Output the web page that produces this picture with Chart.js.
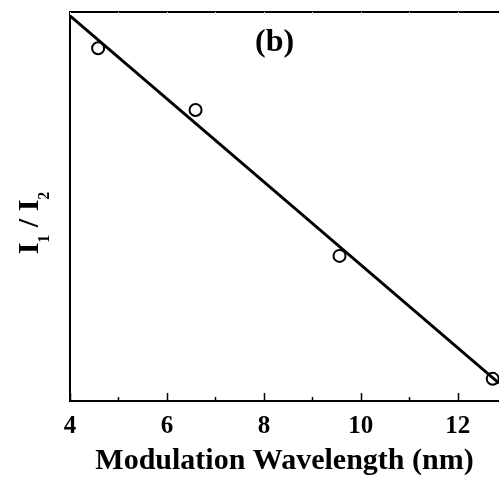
<!DOCTYPE html>
<html>
<head>
<meta charset="utf-8">
<script src="https://cdn.jsdelivr.net/npm/chart.js@4"></script>
<style>
  html, body { margin: 0; padding: 0; background: #fff; }
  #wrap { width: 499px; height: 480px; }
</style>
</head>
<body>
<div id="wrap"><canvas id="ratioChart" width="499" height="480"></canvas></div>
<script>
// Measured points (I1/I2 vs modulation wavelength), y in arbitrary units
const wavelengths = [4.58, 6.59, 9.56, 12.72];
const ratios = [0.907, 0.748, 0.373, 0.057];

// Linear fit drawn as a line between its two ends
const fitX = [4, 12.85];
const fitY = [0.99, 0.046];

const xTicks = [4, 6, 8, 10, 12];
const xMinorTicks = [5, 7, 9, 11];

const SERIF = "'Liberation Serif', 'Times New Roman', serif";

// draws inward tick marks, top frame line, panel label and y title
const decorPlugin = {
  id: 'decor',
  afterDraw(chart) {
    const ctx = chart.ctx;
    const area = chart.chartArea;
    const xs = chart.scales.x;
    ctx.save();

    // top frame
    ctx.strokeStyle = '#000';
    ctx.lineWidth = 2;
    ctx.beginPath();
    ctx.moveTo(area.left - 1, area.top);
    ctx.lineTo(area.right, area.top);
    ctx.stroke();

    // inward ticks on bottom axis
    ctx.lineWidth = 1.5;
    xTicks.concat(xMinorTicks).forEach(v => {
      const px = Math.round(xs.getPixelForValue(v)) + 0.5;
      const len = xTicks.includes(v) ? 8 : 4;
      ctx.beginPath();
      ctx.moveTo(px, area.bottom);
      ctx.lineTo(px, area.bottom - len);
      ctx.stroke();
    });

    // faint ticks on the top axis
    ctx.strokeStyle = '#d8d8d8';
    ctx.lineWidth = 1;
    xTicks.concat(xMinorTicks).forEach(v => {
      const px = Math.round(xs.getPixelForValue(v)) + 0.5;
      ctx.beginPath();
      ctx.moveTo(px, area.top);
      ctx.lineTo(px, area.top + 3);
      ctx.stroke();
    });

    // panel label
    ctx.fillStyle = '#000';
    ctx.font = 'bold 32px ' + SERIF;
    ctx.textAlign = 'left';
    ctx.textBaseline = 'alphabetic';
    ctx.fillText('(b)', 255, 51);

    // y axis title with subscripts, rotated
    const big = 'bold 30px ' + SERIF;
    const small = 'bold 16px ' + SERIF;
    const parts = [
      { t: 'I', f: big, dy: 0 },
      { t: '1', f: small, dy: 11 },
      { t: ' / ', f: big, dy: 0 },
      { t: 'I', f: big, dy: 0 },
      { t: '2', f: small, dy: 11 }
    ];
    let total = 0;
    parts.forEach(p => { ctx.font = p.f; total += ctx.measureText(p.t).width; });
    ctx.translate(38, 223);
    ctx.rotate(-Math.PI / 2);
    let cx = -total / 2;
    parts.forEach(p => {
      ctx.font = p.f;
      ctx.fillText(p.t, cx, p.dy);
      cx += ctx.measureText(p.t).width;
    });
    ctx.restore();
  }
};

new Chart(document.getElementById('ratioChart'), {
  type: 'scatter',
  data: {
    datasets: [
      {
        label: 'data',
        data: wavelengths.map((x, i) => ({ x: x, y: ratios[i] })),
        pointStyle: 'circle',
        pointRadius: 6,
        pointBorderWidth: 2,
        pointBorderColor: '#000',
        pointBackgroundColor: 'rgba(0,0,0,0)',
        showLine: false,
        clip: false
      },
      {
        label: 'fit',
        data: fitX.map((x, i) => ({ x: x, y: fitY[i] })),
        showLine: true,
        borderColor: '#000',
        borderWidth: 3,
        pointRadius: 0,
        fill: false
      }
    ]
  },
  options: {
    responsive: false,
    animation: false,
    layout: { autoPadding: false, padding: { left: 70, top: 12, right: 0, bottom: 0 } },
    plugins: {
      legend: { display: false },
      tooltip: { enabled: false }
    },
    scales: {
      x: {
        type: 'linear',
        min: 4,
        max: 12.85,
        afterBuildTicks: scale => { scale.ticks = xTicks.map(v => ({ value: v })); },
        afterFit: scale => {
          scale.paddingLeft = 0;
          scale.paddingRight = 0;
          scale.height = 79;
        },
        grid: { display: false, drawTicks: false },
        border: { display: true, color: '#000', width: 2 },
        ticks: {
          color: '#000',
          padding: 13.5,
          font: { family: SERIF, size: 25, weight: 'bold', lineHeight: 1 },
          maxRotation: 0,
          autoSkip: false
        },
        title: {
          display: true,
          text: 'Modulation Wavelength (nm)',
          color: '#000',
          font: { family: SERIF, size: 30, weight: 'bold', lineHeight: 1 },
          padding: { top: 0, bottom: 4 }
        }
      },
      y: {
        min: 0,
        max: 1,
        grid: { display: false, drawTicks: false },
        border: { display: true, color: '#000', width: 2 },
        ticks: { display: false }
      }
    }
  },
  plugins: [decorPlugin]
});
</script>
</body>
</html>
